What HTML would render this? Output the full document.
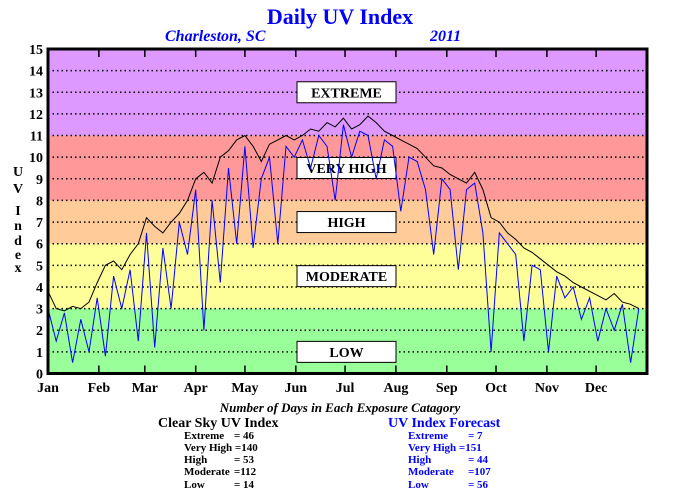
<!DOCTYPE html>
<html><head><meta charset="utf-8">
<style>
body{margin:0;background:#fff;}
svg{display:block;font-family:"Liberation Serif",serif;font-weight:bold;}
</style></head>
<body>
<svg id="chart" width="680" height="500" viewBox="0 0 680 500">
<text x="340" y="24" text-anchor="middle" font-size="22" fill="#0000ff">Daily UV Index</text>
<text x="165" y="41" font-size="16" font-style="italic" fill="#0000ff">Charleston, SC</text>
<text x="430" y="41" font-size="16" font-style="italic" fill="#0000ff">2011</text>
<g id="bands"></g>
<g id="grid"></g>
<g id="cats"></g>
<g id="series"></g>
<g id="axes"></g>
<g font-size="14" text-anchor="middle">
<text x="18" y="176">U</text><text x="18" y="193">V</text><text x="18" y="215">I</text><text x="18" y="230">n</text><text x="18" y="245">d</text><text x="18" y="259">e</text><text x="18" y="272">x</text>
</g>
<text x="340" y="412" text-anchor="middle" font-size="13" font-style="italic">Number of Days in Each Exposure Catagory</text>
<g font-size="11">
<text x="158" y="427" font-size="14">Clear Sky UV Index</text>
<text x="184" y="439">Extreme</text><text x="234" y="439">=  46</text>
<text x="184" y="451">Very High =140</text>
<text x="184" y="463">High</text><text x="234" y="463">=  53</text>
<text x="184" y="475">Moderate</text><text x="234" y="475">=112</text>
<text x="184" y="488">Low</text><text x="234" y="488">=  14</text>
</g>
<g font-size="11" fill="#0000ff">
<text x="388" y="427" font-size="14">UV Index Forecast</text>
<text x="408" y="439">Extreme</text><text x="468" y="439">=    7</text>
<text x="408" y="451">Very High =151</text>
<text x="408" y="463">High</text><text x="468" y="463">=  44</text>
<text x="408" y="475">Moderate</text><text x="468" y="475">=107</text>
<text x="408" y="488">Low</text><text x="468" y="488">=  56</text>
</g>
</svg>
<script>
const months=["Jan","Feb","Mar","Apr","May","Jun","Jul","Aug","Sep","Oct","Nov","Dec"];
const monthStart=[0,31,59,90,120,151,181,212,243,273,304,334];
const yTicks=[0,1,2,3,4,5,6,7,8,9,10,11,12,13,14,15];
const bandLimits=[0,3,6,8,11,15];
const bandColors=["#99ff99","#ffff99","#ffcc99","#ff9999","#dd99ff"];
const categories=["LOW","MODERATE","HIGH","VERY HIGH","EXTREME"];
const categoryLevel=[1,4.5,7,9.5,13];
const sampleStep=5;
const clearSky=[3.8,3.0,2.9,3.1,3.0,3.3,4.2,5.0,5.2,4.8,5.5,6.0,7.2,6.8,6.5,7.0,7.4,8.0,9.0,9.3,8.8,10.0,10.3,10.8,11.0,10.5,9.8,10.6,10.8,11.0,10.8,11.0,11.3,11.2,11.6,11.4,11.8,11.3,11.5,11.9,11.6,11.2,11.0,10.8,10.6,10.4,10.0,9.6,9.5,9.2,9.0,8.8,9.3,8.5,7.2,7.0,6.5,6.2,5.8,5.6,5.3,5.0,4.7,4.5,4.2,4.0,3.8,3.6,3.4,3.7,3.3,3.2,3.0];
const forecast=[3.0,1.5,2.8,0.5,2.5,1.0,3.5,0.8,4.5,3.0,4.8,1.5,6.5,1.2,5.8,3.0,7.0,5.5,8.5,2.0,8.0,4.2,9.5,6.0,10.5,5.8,9.0,10.0,6.0,10.5,10.0,10.8,9.5,11.0,10.5,8.0,11.5,10.0,11.2,11.0,9.0,10.8,10.5,7.5,10.0,9.8,8.5,5.5,9.0,8.5,4.8,8.5,8.8,6.5,1.0,6.5,6.0,5.5,1.5,5.0,4.8,1.0,4.5,3.5,4.0,2.5,3.5,1.5,3.0,2.0,3.2,0.5,3.0];

const NS="http://www.w3.org/2000/svg";
const L=48,R=647,T=49,B=373.5;
const x=d=>L+(R-L)*d/365;
const y=v=>B-(B-T)*v/15;
function mk(tag,attrs,parent){const e=document.createElementNS(NS,tag);for(const k in attrs)e.setAttribute(k,attrs[k]);parent.appendChild(e);return e;}
const bands=document.getElementById('bands'),grid=document.getElementById('grid'),cats=document.getElementById('cats'),series=document.getElementById('series'),axes=document.getElementById('axes');
for(let i=0;i<bandColors.length;i++){
 const r=mk('rect',{x:L,y:y(bandLimits[i+1]),width:R-L,height:y(bandLimits[i])-y(bandLimits[i+1]),fill:bandColors[i]},bands);
 
 
}
yTicks.forEach(v=>{
 if(v>0&&v<15){const g=mk('line',{x1:L,x2:R,y1:y(v),y2:y(v),stroke:'#000','stroke-width':1.5,'stroke-dasharray':'1.5,3'},grid);
 
 }
 const t=mk('text',{x:43,y:y(v)+5,'text-anchor':'end','font-size':14},axes);
 t.textContent=v;
 
 
});
categories.forEach((c,i)=>{
 const cy=y(categoryLevel[i]);
 const r=mk('rect',{x:297,y:cy-10.5,width:99,height:21,fill:'#fff',stroke:'#000','stroke-width':1},cats);
 
 
 const t=mk('text',{x:346.5,y:cy+5,'text-anchor':'middle','font-size':14},cats);
 t.textContent=c;
 
 
});
function line(arr,color,name){
 const pts=arr.map((v,i)=>x(Math.min(i*sampleStep,364)).toFixed(1)+','+y(v).toFixed(1)).join(' ');
 const p=mk('polyline',{points:pts,fill:'none',stroke:color,'stroke-width':1},series);
 
 
}
line(clearSky,'#000','clear-sky-line');
line(forecast,'#0000ff','forecast-line');
months.forEach((m,i)=>{
 const px=x(monthStart[i]);
 if(i>0){
  const a=mk('line',{x1:px,x2:px,y1:T,y2:T+8,stroke:'#000','stroke-width':1.5},axes);
  
  
  const b=mk('line',{x1:px,x2:px,y1:B-8,y2:B,stroke:'#000','stroke-width':1.5},axes);
  
  
 }
 const t=mk('text',{x:px,y:392,'text-anchor':'middle','font-size':14},axes);
 t.textContent=m;
 
 
});
const f=mk('rect',{x:L,y:T,width:R-L,height:B-T,fill:'none',stroke:'#000','stroke-width':3},axes);


</script>
</body></html>
